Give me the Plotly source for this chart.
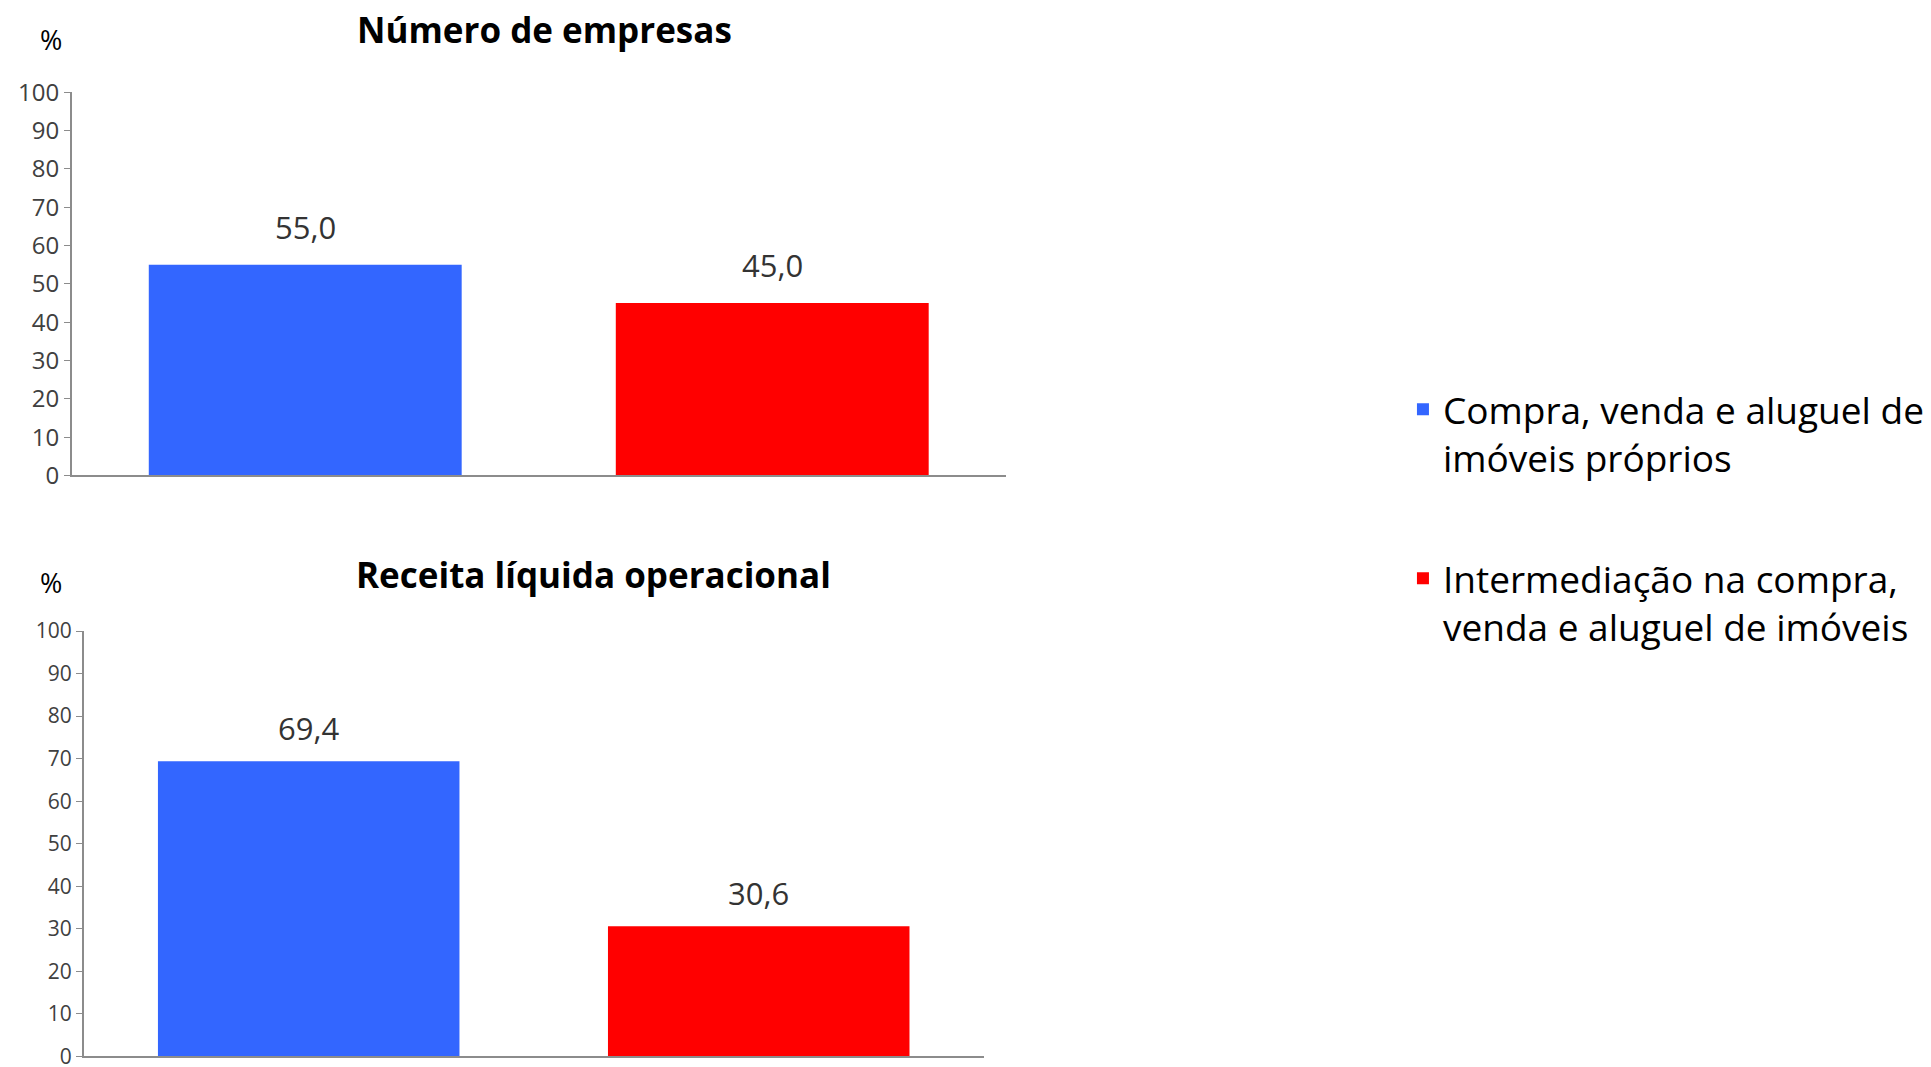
"""
Compra, venda e aluguel de imóveis: participação por segmento
Número de empresas e Receita líquida operacional (%)
"""

import plotly.graph_objects as go

# Data
segments = ["Compra, venda e aluguel de<br>imóveis próprios",
            "Intermediação na compra,<br>venda e aluguel de imóveis"]
seg_keys = ["proprios", "intermediacao"]
colors = ["#3366FF", "#FF0000"]

empresas = [55.0, 45.0]
receita = [69.4, 30.6]

panel_titles = ["Número de empresas", "Receita líquida operacional"]
y_ticks = [0, 10, 20, 30, 40, 50, 60, 70, 80, 90, 100]

FONT = "Open Sans"


def fmt(v):
    # Portuguese decimal comma
    return f"{v:.1f}".replace(".", ",")


fig = go.Figure()

# Top panel - número de empresas
for i, key in enumerate(seg_keys):
    fig.add_trace(go.Bar(
        x=[key], y=[empresas[i]], name=segments[i],
        marker=dict(color=colors[i], line=dict(width=0)),
        width=0.67, xaxis="x", yaxis="y",
        legendgroup=key, showlegend=True, hoverinfo="y",
    ))

# Bottom panel - receita líquida
for i, key in enumerate(seg_keys):
    fig.add_trace(go.Bar(
        x=[key], y=[receita[i]], name=segments[i],
        marker=dict(color=colors[i], line=dict(width=0)),
        width=0.67, xaxis="x2", yaxis="y2",
        legendgroup=key, showlegend=False, hoverinfo="y",
    ))

annotations = []

# value labels above the bars
for key, v in zip(seg_keys, empresas):
    annotations.append(dict(x=key, y=v, xref="x", yref="y", text=fmt(v),
                            showarrow=False, yanchor="middle", yshift=38,
                            font=dict(family=FONT, size=31, color="#333333")))
for key, v in zip(seg_keys, receita):
    annotations.append(dict(x=key, y=v, xref="x2", yref="y2", text=fmt(v),
                            showarrow=False, yanchor="middle", yshift=33,
                            font=dict(family=FONT, size=31, color="#333333")))

# panel titles and "%" units
title_pos = [(0.278, 0.9968), (0.3033, 0.4698)]
pct_pos = [0.9872, 0.462]
for (tx, ty), title, py in zip(title_pos, panel_titles, pct_pos):
    annotations.append(dict(x=tx, y=ty, xref="paper", yref="paper", text=f"<b>{title}</b>",
                            showarrow=False, xanchor="center", yanchor="middle",
                            font=dict(family=FONT, size=35, color="black")))
    annotations.append(dict(x=0.0221, y=py, xref="paper", yref="paper", text="%",
                            showarrow=False, xanchor="center", yanchor="middle",
                            font=dict(family=FONT, size=27, color="black")))

axis_common = dict(showgrid=False, zeroline=False, showline=True,
                   linecolor="#8C8C8C", linewidth=1.5)

fig.update_layout(
    width=1931, height=1067,
    margin=dict(l=0, r=0, t=0, b=0),
    paper_bgcolor="white", plot_bgcolor="white",
    barmode="overlay",
    font=dict(family=FONT, color="#333333"),
    xaxis=dict(domain=[0.033, 0.5167], anchor="y", range=[-0.5, 1.5],
               categoryorder="array", categoryarray=seg_keys,
               showticklabels=False, ticks="", **axis_common),
    yaxis=dict(domain=[0.5653, 0.936], anchor="x", range=[0, 100],
               tickvals=y_ticks, ticks="outside", ticklen=6, tickcolor="#8C8C8C",
               tickfont=dict(family=FONT, size=24, color="#404040"), **axis_common),
    xaxis2=dict(domain=[0.0392, 0.5053], anchor="y2", range=[-0.5, 1.5],
                categoryorder="array", categoryarray=seg_keys,
                showticklabels=False, ticks="", **axis_common),
    yaxis2=dict(domain=[0.0036, 0.4148], anchor="x2", range=[0, 100],
                tickvals=y_ticks, ticks="outside", ticklen=6, tickcolor="#8C8C8C",
                tickfont=dict(family=FONT, size=21, color="#404040"), **axis_common),
    legend=dict(x=0.7224, y=0.659, xanchor="left", yanchor="top",
                font=dict(family=FONT, size=37, color="black"),
                valign="top", tracegroupgap=70, bgcolor="rgba(0,0,0,0)"),
    annotations=annotations,
    showlegend=True,
)

fig.write_html("out.html")
